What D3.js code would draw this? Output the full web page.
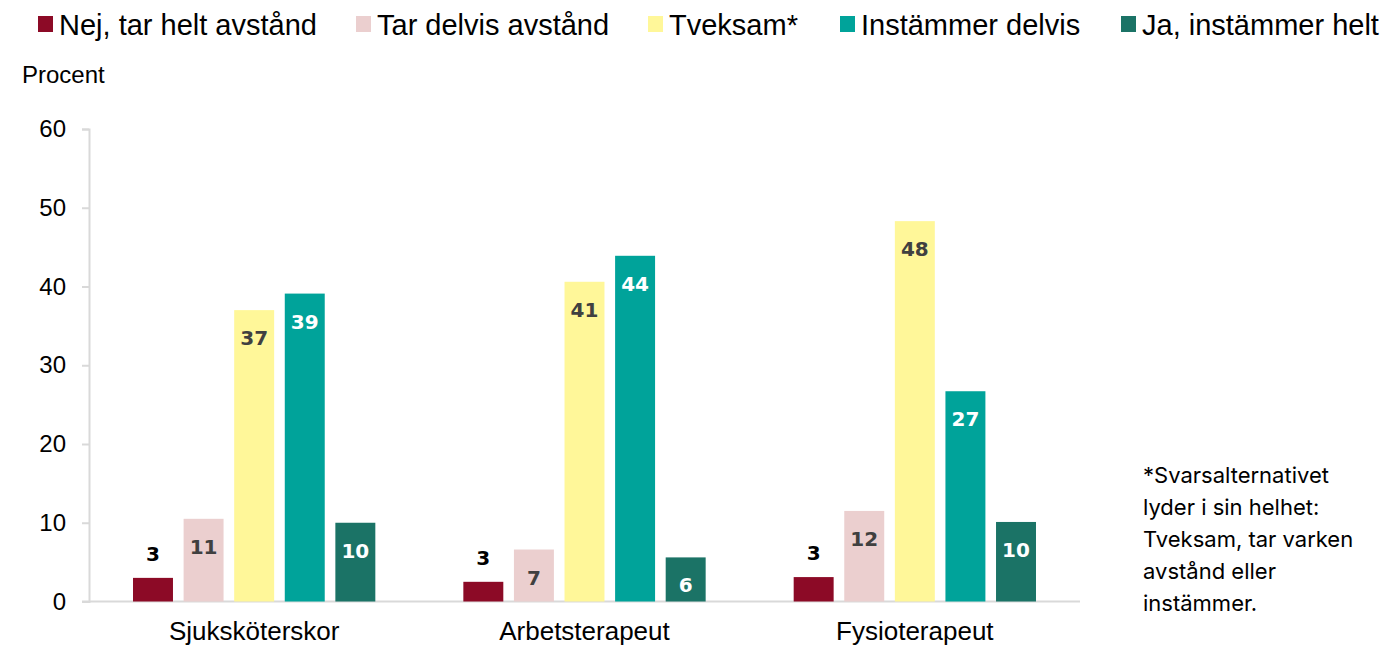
<!DOCTYPE html>
<html>
<head>
<meta charset="utf-8">
<script src="https://cdn.jsdelivr.net/npm/d3@7"></script>
<style>
  body { margin: 0; background: #fff; }
  svg { display: block; }
</style>
</head>
<body>
<svg id="chart"></svg>
<script>
var width = 1389, height = 648;

// data
var categories = ["Sjuksköterskor", "Arbetsterapeut", "Fysioterapeut"];
var seriesNames = ["Nej, tar helt avstånd", "Tar delvis avstånd", "Tveksam*", "Instämmer delvis", "Ja, instämmer helt"];
var seriesColors = ["#8c0a26", "#ebcfcf", "#fff799", "#00a39a", "#1b7366"];
var labelColors = ["#000000", "#404040", "#404040", "#ffffff", "#ffffff"];
var nej = [3.0, 2.5, 3.1];
var tarDelvis = [10.5, 6.6, 11.5];
var tveksam = [37.0, 40.6, 48.3];
var instammerDelvis = [39.1, 43.9, 26.7];
var jaHelt = [10.0, 5.6, 10.1];
var yTicks = [0, 10, 20, 30, 40, 50, 60];
var footnote = ["*Svarsalternativet", "lyder i sin helhet:", "Tveksam, tar varken", "avstånd eller", "instämmer."];

var seriesValues = [nej, tarDelvis, tveksam, instammerDelvis, jaHelt];

var svg = d3.select("#chart").attr("width", width).attr("height", height);

var margin = { left: 89, right: 309, top: 129, bottom: 46 };

var x0 = d3.scaleBand()
    .domain(categories)
    .range([margin.left, width - margin.right]);

var x1 = d3.scaleBand()
    .domain(d3.range(seriesNames.length))
    .range([0, x0.bandwidth()])
    .paddingInner(0.21)
    .paddingOuter(0.87);

var y = d3.scaleLinear()
    .domain([0, 60])
    .range([height - margin.bottom - 0.5, margin.top]);

// y axis
var yAxis = svg.append("g")
    .attr("transform", "translate(" + margin.left + ",0)")
    .call(d3.axisLeft(y).tickValues(yTicks).tickSize(7).tickPadding(16));
yAxis.select(".domain").attr("stroke", "#d9d9d9").attr("stroke-width", 2);
yAxis.selectAll(".tick line").attr("stroke", "#d9d9d9").attr("stroke-width", 2);
yAxis.selectAll(".tick text")
    .attr("fill", "#000")
    .style("font-family", "'Liberation Sans', Arial, sans-serif")
    .style("font-size", "24px");

// baseline
svg.append("line")
    .attr("x1", margin.left - 7)
    .attr("x2", width - margin.right)
    .attr("y1", y(0))
    .attr("y2", y(0))
    .attr("stroke", "#d9d9d9")
    .attr("stroke-width", 2);

// category labels
var xAxis = svg.append("g")
    .attr("transform", "translate(0," + y(0) + ")")
    .call(d3.axisBottom(x0).tickSize(0).tickPadding(20));
xAxis.select(".domain").remove();
xAxis.selectAll(".tick text")
    .attr("fill", "#000")
    .style("font-family", "'Liberation Sans', Arial, sans-serif")
    .style("font-size", "26px");

// bars
var groups = svg.selectAll(".group")
    .data(categories)
    .enter().append("g")
    .attr("class", "group")
    .attr("transform", function (d) { return "translate(" + x0(d) + ",0)"; });

groups.each(function (cat, ci) {
    var g = d3.select(this);
    seriesValues.forEach(function (vals, si) {
        var v = vals[ci];
        g.append("rect")
            .attr("x", x1(si))
            .attr("y", y(v))
            .attr("width", x1.bandwidth())
            .attr("height", y(0) - y(v))
            .attr("fill", seriesColors[si]);
        var inside = si !== 0;
        g.append("text")
            .attr("x", x1(si) + x1.bandwidth() / 2)
            .attr("y", inside ? y(v) + 35 : y(v) - 17)
            .attr("text-anchor", "middle")
            .attr("fill", labelColors[si])
            .style("font-family", "'DejaVu Sans', Verdana, sans-serif")
            .style("font-weight", "bold")
            .style("font-size", "20px")
            .text(Math.round(v));
    });
});

// legend
var legendX = [38, 356, 648, 840, 1121];
var legend = svg.selectAll(".legend")
    .data(seriesNames)
    .enter().append("g")
    .attr("class", "legend")
    .attr("transform", function (d, i) { return "translate(" + legendX[i] + ",0)"; });
legend.append("rect")
    .attr("x", 0).attr("y", 16)
    .attr("width", 15).attr("height", 16)
    .attr("fill", function (d, i) { return seriesColors[i]; });
legend.append("text")
    .attr("x", 21).attr("y", 35)
    .attr("fill", "#000")
    .style("font-family", "'Liberation Sans', Arial, sans-serif")
    .style("font-size", "29px")
    .text(function (d) { return d; });

// unit
svg.append("text")
    .attr("x", 22).attr("y", 83)
    .attr("fill", "#000")
    .style("font-family", "'Liberation Sans', Arial, sans-serif")
    .style("font-size", "24px")
    .text("Procent");

// footnote
svg.append("g").selectAll("text")
    .data(footnote)
    .enter().append("text")
    .attr("x", 1143)
    .attr("y", function (d, i) { return 483 + i * 32; })
    .attr("fill", "#000")
    .style("font-family", "Inter, 'Liberation Sans', Arial, sans-serif")
    .style("font-size", "22px")
    .text(function (d) { return d; });
</script>
</body>
</html>
